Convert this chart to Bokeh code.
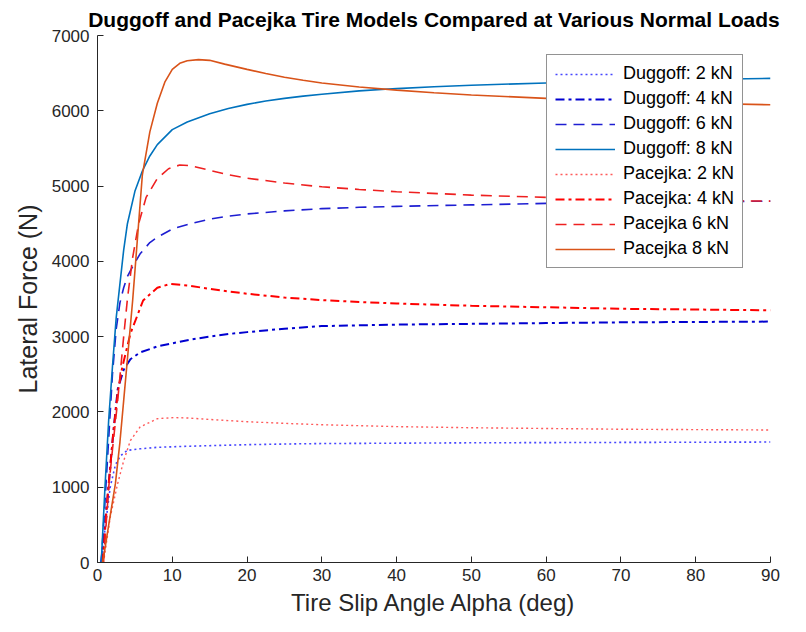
from bokeh.plotting import figure
from bokeh.models import Range1d, FixedTicker, Legend, LegendItem
from bokeh.embed import file_html
from bokeh.resources import INLINE

# ---- data ----
d2_alpha = [0.5, 1.07, 1.7, 2.4, 3.1, 4.0, 5.7, 8.0, 12.4, 20, 25.8, 30, 50, 70, 90]
d2_force = [0, 500, 1000, 1300, 1420, 1490, 1510, 1530, 1545, 1565, 1575, 1580, 1590, 1595, 1600]

d4_alpha = [0.5, 1.3, 2.1, 2.7, 3.5, 4.4, 5.7, 8.0, 12.4, 15, 17.5, 20, 25, 30, 40, 50, 60, 70, 80, 90]
d4_force = [0, 820, 1710, 2300, 2560, 2700, 2790, 2870, 2960, 3000, 3035, 3060, 3105, 3140, 3160, 3170, 3180, 3190, 3195, 3200]

d6_alpha = [0.5, 1.0, 1.5, 2.0, 2.5, 3.0, 3.5, 4.0, 4.8, 5.7, 7, 8, 10, 12.4, 15, 17.5, 20, 25, 30, 35, 40, 50, 60, 70, 80, 90]
d6_force = [0, 800, 1650, 2500, 3100, 3450, 3650, 3800, 3950, 4100, 4250, 4320, 4430, 4500, 4560, 4600, 4630, 4670, 4700, 4718, 4730, 4750, 4770, 4780, 4790, 4800]

d8_alpha = [0.5, 1.0, 1.5, 2.0, 2.5, 3.0, 3.5, 4.0, 5.0, 6.0, 7.0, 8.0, 10, 12, 15, 17.5, 20, 22.5, 25, 27.5, 30, 35, 40, 45, 50, 60, 70, 80, 90]
d8_force = [0, 1000, 1900, 2600, 3250, 3700, 4150, 4500, 4930, 5200, 5400, 5550, 5750, 5850, 5960, 6030, 6085, 6130, 6165, 6195, 6220, 6265, 6295, 6320, 6340, 6370, 6395, 6415, 6430]

p2_alpha = [0.8, 1.7, 2.7, 3.5, 4.4, 5.7, 8.0, 10.2, 12, 15, 20, 25.8, 30, 40, 50, 60, 70, 80, 90]
p2_force = [0, 600, 1050, 1350, 1620, 1800, 1910, 1925, 1920, 1900, 1870, 1845, 1830, 1805, 1790, 1780, 1770, 1765, 1760]

p4_alpha = [0.7, 1.3, 2.1, 2.7, 3.3, 4.4, 6.1, 8.0, 9.7, 12, 15, 17.5, 20, 25, 30, 35, 40, 50, 60, 70, 80, 90]
p4_force = [0, 820, 1710, 2250, 2590, 3040, 3480, 3650, 3700, 3680, 3635, 3600, 3570, 3520, 3485, 3460, 3440, 3410, 3390, 3370, 3360, 3350]

p6_alpha = [0.8, 1.5, 2.0, 2.7, 3.5, 4.0, 4.7, 5.5, 6.5, 8, 9.5, 11, 12.5, 15, 17.5, 20, 25, 30, 35, 40, 50, 60, 70, 80, 90]
p6_force = [0, 1000, 1500, 2150, 3000, 3500, 4050, 4500, 4850, 5100, 5230, 5280, 5270, 5210, 5150, 5105, 5040, 4990, 4955, 4925, 4880, 4850, 4830, 4810, 4800]

p8_alpha = [0.7, 1.5, 2.4, 3.0, 3.5, 4.0, 4.7, 5.3, 6.0, 7.0, 8.0, 9.0, 10.0, 11, 12, 13.5, 15, 17, 20, 22.5, 25, 27.5, 30, 35, 40, 45, 50, 60, 70, 80, 90]
p8_force = [0, 500, 1050, 1600, 2150, 2700, 3480, 4250, 5150, 5720, 6100, 6380, 6550, 6630, 6665, 6680, 6670, 6620, 6550, 6495, 6445, 6405, 6370, 6315, 6275, 6240, 6210, 6165, 6130, 6100, 6080]

labels = ["Duggoff: 2 kN", "Duggoff: 4 kN", "Duggoff: 6 kN", "Duggoff: 8 kN",
          "Pacejka: 2 kN", "Pacejka: 4 kN", "Pacejka 6 kN", "Pacejka 8 kN"]
x_ticks = [0, 10, 20, 30, 40, 50, 60, 70, 80, 90]
y_ticks = [0, 1000, 2000, 3000, 4000, 5000, 6000, 7000]

FONT = "Liberation Sans"
TXT = "#262626"

p = figure(width=806, height=632, output_backend="svg", toolbar_location=None,
           x_range=Range1d(0, 90), y_range=Range1d(0, 7000),
           min_border_left=97, min_border_right=36, min_border_top=35, min_border_bottom=70,
           title="Duggoff and Pacejka Tire Models Compared at Various Normal Loads")
p.outline_line_color = None
p.grid.visible = False
p.background_fill_color = "white"
p.border_fill_color = "white"

p.title.text_font = FONT
p.title.text_font_size = "21px"
p.title.text_font_style = "bold"
p.title.text_color = "black"
p.title.align = "center"
p.title.standoff = 10

for ax in (p.xaxis[0], p.yaxis[0]):
    ax.axis_line_color = TXT
    ax.major_tick_line_color = TXT
    ax.major_tick_in = 6
    ax.major_tick_out = 0
    ax.minor_tick_line_color = None
    ax.major_label_text_font = FONT
    ax.major_label_text_font_size = "17px"
    ax.major_label_text_color = TXT
    ax.axis_label_text_font = FONT
    ax.axis_label_text_font_style = "normal"
    ax.axis_label_text_color = TXT

p.xaxis.axis_label_text_font_size = "24px"
p.yaxis.axis_label_text_font_size = "25px"
p.xaxis.ticker = FixedTicker(ticks=x_ticks)
p.yaxis.ticker = FixedTicker(ticks=y_ticks)
p.xaxis.axis_label = "Tire Slip Angle Alpha (deg)"
p.yaxis.axis_label = "Lateral Force (N)"
p.xaxis.major_label_standoff = 6
p.yaxis.major_label_standoff = 8
p.xaxis.axis_label_standoff = 5
p.yaxis.axis_label_standoff = 7

series = [
    (d2_alpha, d2_force, "#4646ff", 1.6, "2 3"),
    (d4_alpha, d4_force, "#0000d0", 2.0, "9 4 3 4"),
    (d6_alpha, d6_force, "#1e1ed2", 1.6, "11 7"),
    (d8_alpha, d8_force, "#0072bd", 1.6, "solid"),
    (p2_alpha, p2_force, "#ff5a5a", 1.4, "2 3"),
    (p4_alpha, p4_force, "#ff0000", 2.0, "9 4 3 4"),
    (p6_alpha, p6_force, "#ee2020", 1.6, "11 7"),
    (p8_alpha, p8_force, "#d95319", 1.6, "solid"),
]

items = []
for (xs, ys, col, w, dash), lab in zip(series, labels):
    r = p.line(xs, ys, line_color=col, line_width=w, line_dash=dash)
    items.append(LegendItem(label=lab, renderers=[r]))

legend = Legend(items=items, location=(449, 294))
legend.border_line_color = "#262626"
legend.border_line_width = 1.2
legend.background_fill_color = "white"
legend.background_fill_alpha = 1.0
legend.margin = 0
legend.padding = 8
legend.spacing = 4
legend.label_height = 20
legend.glyph_height = 20
legend.glyph_width = 60
legend.label_standoff = 8
legend.label_text_font = FONT
legend.label_text_font_size = "18px"
legend.label_text_color = "black"
p.add_layout(legend, "center")

open("out.html", "w").write(file_html(p, INLINE))
